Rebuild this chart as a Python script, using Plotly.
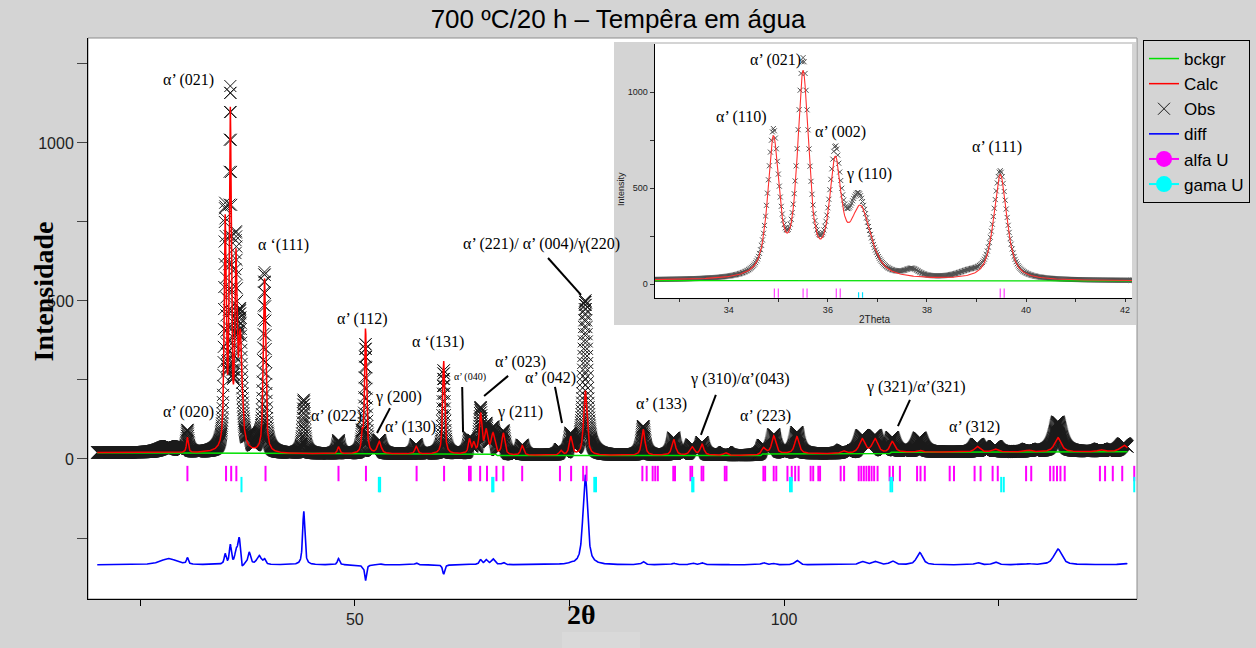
import numpy as np
import plotly.graph_objects as go

# ---------------------------------------------------------------------------
# Diffraction pattern data (Cu K-alpha, 2-theta in degrees, intensity in counts)
# ---------------------------------------------------------------------------
two_theta = np.round(np.arange(20.0, 140.0001, 0.02), 2)

# refined background nodes
bckgr_2theta = [20.0, 30.0, 45.0, 66.4, 66.6, 97.3, 97.5, 112.3, 112.5, 140.0]
bckgr_counts = [20, 19, 16, 15, 11, 11, 16, 17, 21, 23]

# calculated (refined) reflections: position, peak height above background, FWHM
calc_pos = [30.5, 34.9, 35.5, 36.15, 36.66, 39.48, 48.1, 50.85, 51.25, 52.85,
            57.15, 60.35, 63.35, 63.85, 64.65, 65.3, 66.1, 67.3, 69.5, 74.0,
            75.15, 76.85, 83.6, 87.15, 89.3, 90.45, 93.2, 97.6, 98.8, 101.5,
            106.9, 109.1, 110.6, 112.6, 115.8, 122.5, 124.6, 128.5, 131.9, 136.9,
            139.6]
calc_height = [48, 708, 1040, 555, 350, 550, 22, 55, 395, 38,
               24, 295, 45, 32, 125, 70, 62, 68, 30, 14,
               58, 205, 82, 50, 26, 34, 8, 18, 56, 54,
               8, 45, 45, 33, 6, 18, 9, 5, 45, 6,
               20]
calc_fwhm = [0.25, 0.27, 0.27, 0.28, 0.5, 0.32, 0.3, 0.22, 0.26, 0.5,
             0.35, 0.28, 0.3, 0.3, 0.35, 0.4, 0.5, 0.4, 0.4, 0.4,
             0.4, 0.45, 0.45, 0.5, 0.6, 0.5, 0.5, 0.6, 0.55, 0.6,
             0.6, 0.8, 0.8, 0.7, 0.6, 0.7, 0.7, 0.7, 0.9, 0.8,
             1.0]

# observed reflections (including features not covered by the refinement)
obs_pos = [28.3, 30.5, 34.9, 35.5, 36.15, 36.62, 37.7, 38.85, 39.48, 44.05,
           48.1, 50.85, 51.25, 52.85, 57.15, 60.35, 63.35, 63.85, 64.65, 65.3,
           66.1, 67.3, 69.5, 74.0, 75.15, 76.85, 83.6, 87.15, 89.3, 90.45,
           93.2, 97.6, 98.8, 101.5, 106.9, 109.1, 110.6, 112.6, 115.8, 122.5,
           124.6, 128.5, 131.9, 136.9, 139.6]
obs_height = [20, 68, 740, 1100, 585, 405, 38, 28, 565, 170,
              42, 50, 345, 42, 30, 265, 48, 35, 140, 85,
              80, 75, 32, 15, 62, 490, 92, 55, 32, 40,
              10, 25, 60, 68, 10, 55, 55, 45, 45, 25,
              18, 8, 95, 8, 25]
obs_fwhm = [2.2, 0.25, 0.27, 0.27, 0.28, 0.5, 0.35, 0.6, 0.32, 0.3,
            0.3, 0.22, 0.26, 0.5, 0.35, 0.28, 0.3, 0.3, 0.35, 0.4,
            0.5, 0.4, 0.4, 0.4, 0.4, 0.55, 0.45, 0.5, 0.6, 0.5,
            0.5, 0.6, 0.55, 0.6, 0.6, 0.8, 0.8, 0.7, 0.8, 0.7,
            0.7, 0.7, 1.0, 0.8, 1.0]

# reflection markers of each phase
alfa_ticks = [30.5, 35.0, 35.6, 36.2, 39.6, 48.1, 51.3, 57.2, 60.4, 63.3, 63.5,
              64.6, 65.4, 66.5, 67.3, 69.5, 73.9, 75.2, 76.6, 77.0, 83.5, 84.0,
              84.7, 85.0, 85.3, 87.1, 87.3, 89.1, 89.3, 90.4, 90.6, 93.1, 93.3,
              97.6, 97.8, 98.8, 99.1, 100.4, 100.9, 101.3, 101.7, 103.1, 103.4,
              104.0, 104.2, 106.6, 107.0, 108.7, 109.0, 109.3, 109.6, 109.9,
              110.2, 110.5, 110.9, 112.3, 112.7, 113.5, 115.5, 115.9, 116.4,
              119.3, 119.8, 122.2, 122.9, 124.3, 124.9, 128.2, 128.8, 131.0,
              131.4, 131.8, 132.2, 132.7, 136.8, 137.4, 138.3, 139.4, 140.8]
gama_ticks = [36.8, 52.8, 52.95, 66.0, 66.15, 77.9, 78.1, 89.3, 89.45, 100.7,
              100.9, 112.4, 112.6, 125.3, 125.6, 140.8]
alfa_ticks_zoom = [34.92, 35.0, 35.5, 35.58, 36.17, 36.25, 39.48, 39.56]
gama_ticks_zoom = [36.62, 36.7]

DIFF_OFFSET = -335
ETA = 0.75  # pseudo-Voigt Lorentzian fraction


def pattern(x, pos, height, fwhm):
    out = np.zeros_like(x)
    for c, h, w in zip(pos, height, fwhm):
        z = (x - c) / w
        out += h * (ETA / (1.0 + 4.0 * z * z) + (1.0 - ETA) * np.exp(-4.0 * np.log(2) * z * z))
    return out


bg = np.interp(two_theta, bckgr_2theta, bckgr_counts)
calc = bg + pattern(two_theta, calc_pos, calc_height, calc_fwhm)
obs = bg + pattern(two_theta, obs_pos, obs_height, obs_fwhm)
diff = obs - calc + DIFF_OFFSET

zoom_mask = (two_theta >= 32.4) & (two_theta <= 42.3)

# ---------------------------------------------------------------------------
# Figure
# ---------------------------------------------------------------------------
GREY = "#d4d4d4"
SANS = "Liberation Sans, Arial, sans-serif"
SERIF = "Liberation Serif, Times New Roman, serif"

fig = go.Figure()

# main pattern
fig.add_trace(go.Scatter(x=two_theta, y=obs, mode="markers", name="Obs",
                         marker=dict(symbol="x-thin", size=12, line=dict(width=1, color="#1a1a1a")),
                         legendrank=3))
fig.add_trace(go.Scatter(x=bckgr_2theta, y=bckgr_counts, mode="lines", name="bckgr",
                         line=dict(color="#00e000", width=1.5), legendrank=1))
fig.add_trace(go.Scatter(x=two_theta, y=calc, mode="lines", name="Calc",
                         line=dict(color="#ff0000", width=1.5), legendrank=2))
fig.add_trace(go.Scatter(x=two_theta, y=diff, mode="lines", name="diff",
                         line=dict(color="#0000ff", width=1.6), legendrank=4))
fig.add_trace(go.Scatter(x=alfa_ticks, y=[-46] * len(alfa_ticks), mode="markers", showlegend=False,
                         marker=dict(symbol="line-ns", size=11, line=dict(width=2, color="#ff00ff"))))
fig.add_trace(go.Scatter(x=gama_ticks, y=[-81] * len(gama_ticks), mode="markers", showlegend=False,
                         marker=dict(symbol="line-ns", size=11, line=dict(width=2, color="#00ffff"))))
# legend entries of the phases
fig.add_trace(go.Scatter(x=[None], y=[None], mode="lines+markers", name="alfa U",
                         line=dict(color="#ff00ff", width=2),
                         marker=dict(symbol="circle", size=16, color="#ff00ff"),
                         legendrank=5))
fig.add_trace(go.Scatter(x=[None], y=[None], mode="lines+markers", name="gama U",
                         line=dict(color="#00ffff", width=2),
                         marker=dict(symbol="circle", size=16, color="#00ffff"),
                         legendrank=6))

# zoomed pattern
fig.add_trace(go.Scatter(x=two_theta[zoom_mask], y=obs[zoom_mask], mode="markers", showlegend=False,
                         xaxis="x2", yaxis="y2",
                         marker=dict(symbol="x-thin", size=5, line=dict(width=1, color="#505050"))))
fig.add_trace(go.Scatter(x=bckgr_2theta, y=bckgr_counts, mode="lines", showlegend=False,
                         xaxis="x2", yaxis="y2", line=dict(color="#00e000", width=1.2)))
fig.add_trace(go.Scatter(x=two_theta[zoom_mask], y=calc[zoom_mask], mode="lines", showlegend=False,
                         xaxis="x2", yaxis="y2", line=dict(color="#ff3030", width=1.1)))
fig.add_trace(go.Scatter(x=alfa_ticks_zoom, y=[-47] * len(alfa_ticks_zoom), mode="markers",
                         showlegend=False, xaxis="x2", yaxis="y2",
                         marker=dict(symbol="line-ns", size=7, line=dict(width=1.2, color="#ff40ff"))))
fig.add_trace(go.Scatter(x=gama_ticks_zoom, y=[-64] * len(gama_ticks_zoom), mode="markers",
                         showlegend=False, xaxis="x2", yaxis="y2",
                         marker=dict(symbol="line-ns", size=6, line=dict(width=1.2, color="#00e0ff"))))

# ---------------------------------------------------------------------------
# Peak labels
# ---------------------------------------------------------------------------
main_labels = [
    ("α’ (021)", 30.59, 1199, 16),
    ("α ‘(111)", 41.64, 677, 16),
    ("α’ (112)", 50.95, 443, 16),
    ("α ‘(131)", 59.69, 370, 16),
    ("α’ (020)", 30.59, 149, 16),
    ("α’ (022)", 47.81, 136, 16),
    ("γ (200)", 55.09, 196, 16),
    ("α’ (130)", 56.43, 101, 16),
    ("α’ (040)", 63.42, 259, 10),
    ("α’ (023)", 69.25, 307, 16),
    ("γ (211)", 69.25, 149, 16),
    ("α’ (042)", 72.75, 256, 16),
    ("α’ (221)/ α’ (004)/γ(220)", 71.75, 680, 16),
    ("α’ (133)", 85.68, 174, 16),
    ("γ (310)/α’(043)", 94.88, 253, 16),
    ("α’ (223)", 97.79, 136, 16),
    ("γ (321)/α’(321)", 115.38, 228, 16),
    ("α’ (312)", 122.14, 101, 16),
]
leader_lines = [
    (54.10, 161, 52.59, 82),
    (62.51, 228, 62.61, 85),
    (67.86, 263, 65.06, 199),
    (73.32, 228, 74.14, 114),
    (72.51, 636, 76.35, 519),
    (92.06, 203, 90.32, 76),
    (114.67, 187, 113.27, 104),
]
zoom_labels = [
    ("α’ (021)", 34.94, 1168),
    ("α’ (110)", 34.25, 871),
    ("α’ (002)", 36.25, 793),
    ("γ (110)", 36.83, 574),
    ("α’ (111)", 39.42, 715),
]

annotations = []
for text, xv, yv, fs in main_labels:
    annotations.append(dict(x=xv, y=yv, xref="x", yref="y", text=text, showarrow=False,
                            font=dict(family=SERIF, size=fs, color="black")))
for text, xv, yv in zoom_labels:
    annotations.append(dict(x=xv, y=yv, xref="x2", yref="y2", text=text, showarrow=False,
                            font=dict(family=SERIF, size=16, color="black")))

# plot-area geometry (pixels) used to place the page-level texts
L, R, T, B = 88, 119, 38, 49
PW, PH = 1256 - L - R, 648 - T - B


def px(xp):
    return (xp - L) / PW


def py(yp):
    return (648 - B - yp) / PH


annotations += [
    dict(x=px(25), y=py(292), xref="paper", yref="paper", text="<b>Intensidade</b>",
         textangle=-90, showarrow=False, font=dict(family=SERIF, size=28, color="black")),
    dict(x=px(581), y=py(632), xref="paper", yref="paper", text="<b>2θ</b>",
         showarrow=False, font=dict(family=SERIF, size=28, color="black")),
    dict(x=px(621), y=py(170), xref="paper", yref="paper", text="Intensity",
         textangle=-90, showarrow=False, font=dict(family=SANS, size=9, color="#222")),
    dict(x=px(893), y=py(319), xref="paper", yref="paper", text="2Theta",
         showarrow=False, font=dict(family=SANS, size=10, color="#222")),
]

shapes = [
    # frame of the main plot area
    dict(type="rect", xref="x domain", yref="y domain", x0=0, x1=1, y0=0, y1=1,
         line=dict(color="#8c8c8c", width=1), layer="below"),
    # panel holding the zoomed view
    dict(type="rect", xref="paper", yref="paper", x0=px(614), x1=px(1136), y0=py(325), y1=py(42),
         fillcolor=GREY, line=dict(width=0), layer="below"),
    dict(type="rect", xref="x2 domain", yref="y2 domain", x0=0, x1=1, y0=0, y1=1,
         fillcolor="white", line=dict(width=0), layer="below"),
    # light box behind the x-axis title
    dict(type="rect", xref="paper", yref="paper", x0=px(562), x1=px(640), y0=py(648), y1=py(632),
         fillcolor="#d9d9d9", line=dict(width=0), layer="below"),
]
for x0, y0, x1, y1 in leader_lines:
    shapes.append(dict(type="line", xref="x", yref="y", x0=x0, y0=y0, x1=x1, y1=y1,
                       line=dict(color="black", width=2)))

fig.update_layout(
    width=1256, height=648,
    margin=dict(l=L, r=R, t=T, b=B, pad=0, autoexpand=False),
    paper_bgcolor=GREY, plot_bgcolor="white",
    title=dict(text="700 ºC/20 h – Tempêra em água", x=618 / 1256, y=1 - 19 / 648,
               xanchor="center", yanchor="middle",
               font=dict(family=SANS, size=26, color="black")),
    showlegend=True,
    legend=dict(x=px(1143), y=py(40), xanchor="left", yanchor="top",
                bgcolor=GREY, bordercolor="black", borderwidth=1,
                font=dict(family=SANS, size=17, color="black"),
                traceorder="normal", itemsizing="trace"),
    xaxis=dict(domain=[0, 1], range=[18.92, 141.12], showgrid=False, zeroline=False,
               showline=True, linecolor="black", linewidth=1,
               ticks="outside", ticklen=6, tickcolor="black",
               tickvals=[25, 50, 75, 100, 125], ticktext=["", "50", "", "100", ""],
               tickfont=dict(family=SANS, size=16, color="#222")),
    yaxis=dict(domain=[0, 1], range=[-443, 1332], showgrid=False, zeroline=False,
               showline=True, linecolor="black", linewidth=1,
               ticks="outside", ticklen=10, tickcolor="#444",
               tickvals=[-250, 0, 250, 500, 750, 1000, 1250],
               ticktext=["", "0", "", "500", "", "1000", ""],
               tickfont=dict(family=SANS, size=16, color="#222")),
    xaxis2=dict(domain=[px(654.5), px(1132)], anchor="y2", range=[32.5, 42.14],
                showgrid=False, zeroline=False, showline=True, linecolor="black", linewidth=1,
                ticks="outside", ticklen=3, tickcolor="#333",
                tickvals=[33, 34, 35, 36, 37, 38, 39, 40, 41, 42],
                ticktext=["", "34", "", "36", "", "38", "", "40", "", "42"],
                tickfont=dict(family=SANS, size=9, color="#222")),
    yaxis2=dict(domain=[py(297.7), py(44)], anchor="x2", range=[-70, 1251],
                showgrid=False, zeroline=False, showline=True, linecolor="black", linewidth=1,
                ticks="outside", ticklen=4, tickcolor="#333",
                tickvals=[0, 250, 500, 750, 1000],
                ticktext=["0", "", "500", "", "1000"],
                tickfont=dict(family=SANS, size=9, color="#222")),
    annotations=annotations,
    shapes=shapes,
)

fig.write_html("out.html")
